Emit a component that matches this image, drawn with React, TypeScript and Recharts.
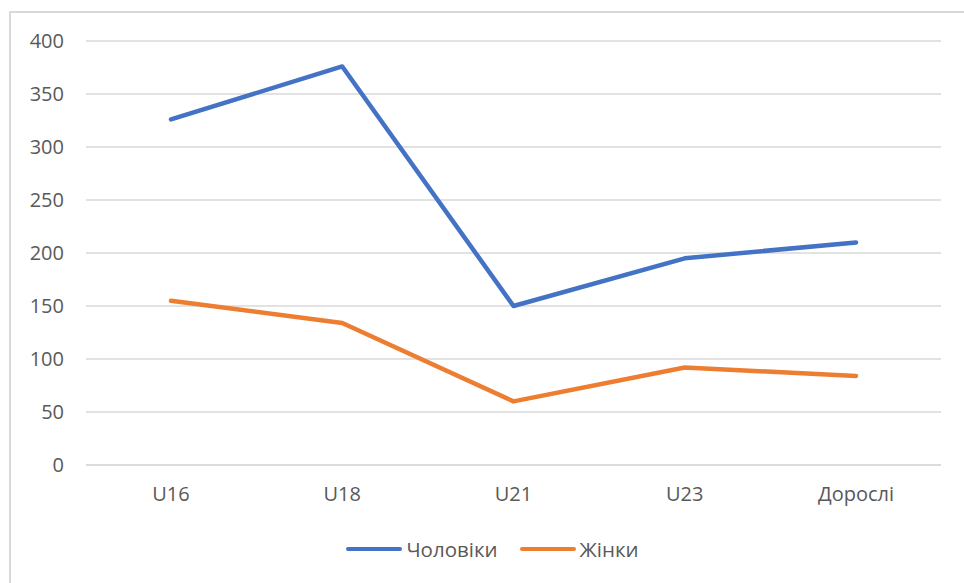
import { LineChart, Line, XAxis, YAxis, CartesianGrid } from "recharts";

const categories = ["U16", "U18", "U21", "U23", "Дорослі"];
const men = [326, 376, 150, 195, 210];
const women = [155, 134, 60, 92, 84];
const yTicks = [0, 50, 100, 150, 200, 250, 300, 350, 400];

const series = [
  { key: "men", name: "Чоловіки", color: "#4472C4", values: men },
  { key: "women", name: "Жінки", color: "#ED7D31", values: women },
];

const FONT = "'Open Sans', 'Noto Sans', sans-serif";
const TEXT = "#595959";
const GRID = "#d9d9d9";

export default function App() {
  const data = categories.map((c, i) => ({
    name: c,
    men: men[i],
    women: women[i],
  }));

  return (
    <div
      style={{
        position: "absolute",
        left: 0,
        top: 0,
        width: 964,
        height: 583,
        overflow: "hidden",
        background: "#fff",
        fontFamily: FONT,
      }}
    >
      {/* chart frame, cropped at right and bottom */}
      <div
        style={{
          position: "absolute",
          left: 9,
          top: 11,
          width: 1000,
          height: 620,
          border: `2px solid ${GRID}`,
          boxSizing: "border-box",
        }}
      />
      <div style={{ position: "absolute", left: 0, top: 0 }}>
        <LineChart
          width={964}
          height={583}
          data={data}
          margin={{ top: 41, right: 23, left: 0, bottom: 88 }}
        >
          <CartesianGrid vertical={false} stroke={GRID} strokeWidth={1.5} />
          <XAxis
            dataKey="name"
            height={30}
            padding={{ left: 85, right: 85 }}
            axisLine={{ stroke: GRID, strokeWidth: 1.5 }}
            tickLine={false}
            tickSize={0}
            tickMargin={22}
            interval={0}
            tick={{ fontSize: 20, fill: TEXT, fontFamily: FONT }}
          />
          <YAxis
            width={86}
            domain={[0, 400]}
            ticks={yTicks}
            axisLine={false}
            tickLine={false}
            tickSize={0}
            tickMargin={22}
            tick={{ fontSize: 20, fill: TEXT, fontFamily: FONT }}
          />
          {series.map((s) => (
            <Line
              key={s.key}
              type="linear"
              dataKey={s.key}
              name={s.name}
              stroke={s.color}
              strokeWidth={4.5}
              strokeLinecap="round"
              strokeLinejoin="round"
              dot={false}
              activeDot={false}
              isAnimationActive={false}
            />
          ))}
        </LineChart>
      </div>
      {/* legend */}
      <div
        style={{
          position: "absolute",
          left: 0,
          top: 535,
          width: 985,
          display: "flex",
          justifyContent: "center",
          gap: 22,
          fontSize: 20.5,
          color: TEXT,
        }}
      >
        {series.map((s) => (
          <div key={s.key} style={{ display: "flex", alignItems: "center" }}>
            <span
              style={{
                display: "inline-block",
                width: 56,
                height: 4.5,
                borderRadius: 3,
                background: s.color,
                marginRight: 4,
              }}
            />
            <span>{s.name}</span>
          </div>
        ))}
      </div>
    </div>
  );
}
